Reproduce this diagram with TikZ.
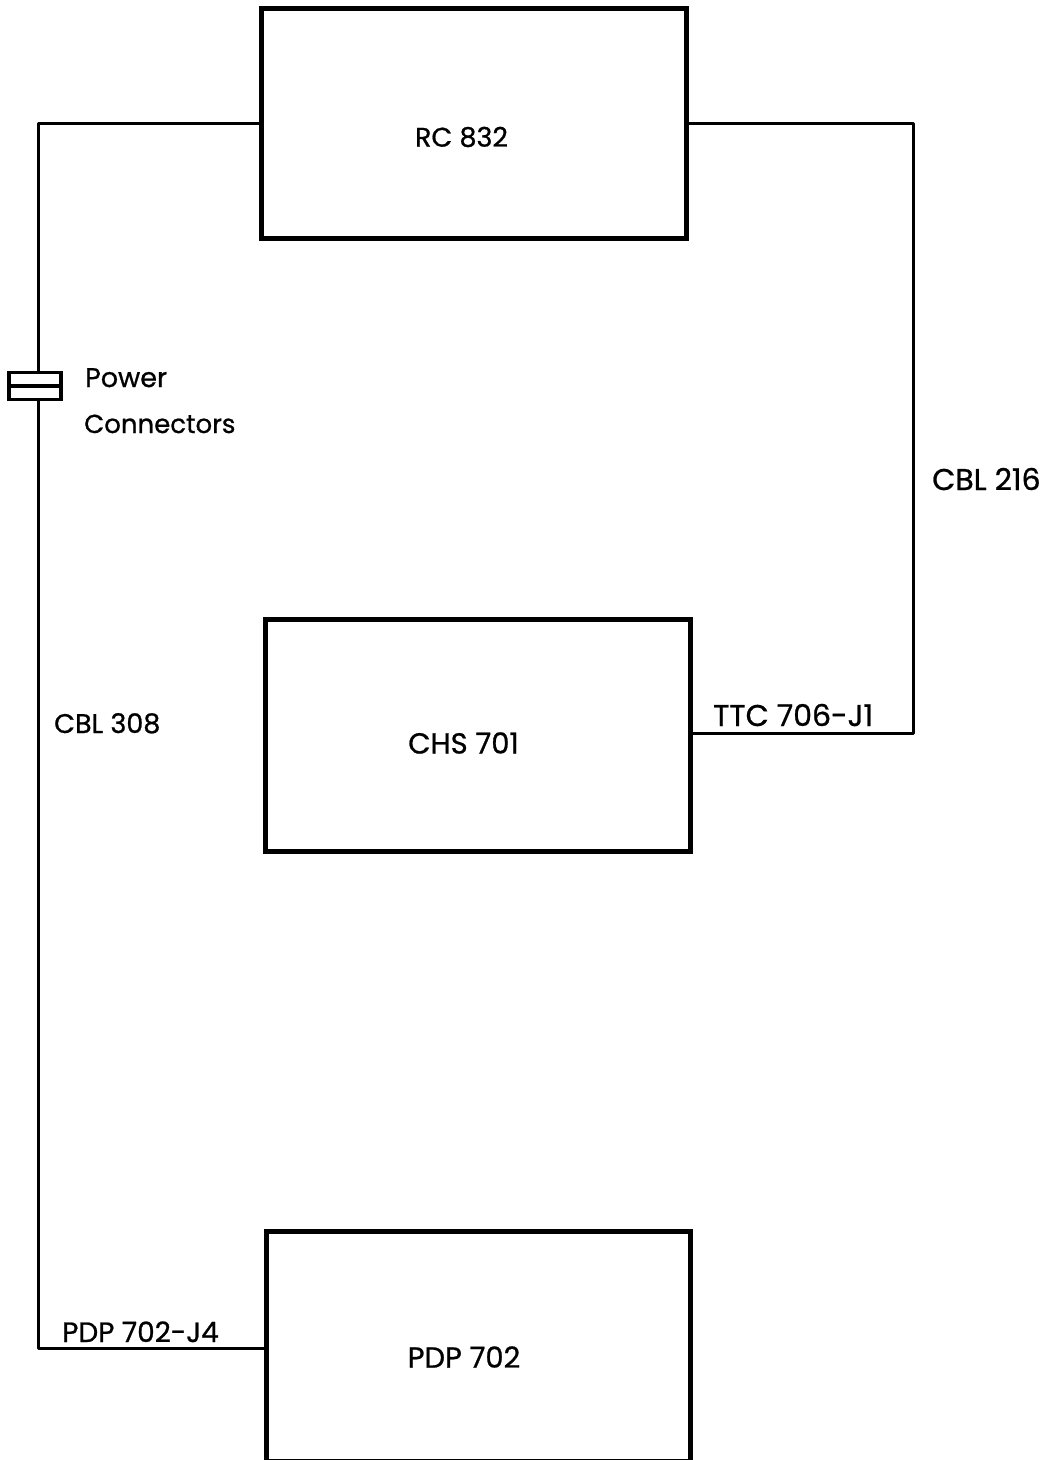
\documentclass[tikz,border=0pt]{standalone}
\usepackage{fontspec}
\setmainfont{Poppins}[FakeBold=0.8]
\begin{document}
\begin{tikzpicture}[x=1pt,y=-1pt,
  box/.style={draw, line width=5pt, rectangle, inner sep=0pt},
  wire/.style={draw, line width=3pt, line join=round},
  lbl/.style={font=\fontsize{27}{32}\selectfont, inner sep=0pt},
  slbl/.style={font=\fontsize{27}{32}\selectfont, inner sep=0pt, anchor=base west}]
\useasboundingbox (0,0) rectangle (1056,1460);
% boxes
\node[box, minimum width=425pt, minimum height=230pt] (rc) at (473.5,123) {};
\node[lbl] at (rc.center) [yshift=-14pt, xshift=-12pt] {RC 832};
\node[box, minimum width=425pt, minimum height=232pt] (chs) at (477.5,735) {};
\node[lbl, font=\fontsize{29}{34}\selectfont] at (chs.center) [yshift=-8pt, xshift=-14pt] {CHS 701};
\node[box, minimum width=424pt, minimum height=230pt] (pdp) at (478,1346) {};
\node[lbl, font=\fontsize{29}{34}\selectfont] at (pdp.center) [yshift=-11pt, xshift=-14pt] {PDP 702};
% coordinates for wire corners
\coordinate (lt) at (38,123);
\coordinate (lb) at (38,1348);
\coordinate (rt) at (913,123);
\coordinate (rb) at (913,733);
% wires
\draw[wire] (rc.west |- lt) -- (lt) -- (lb) -- (pdp.west |- lb);
\draw[wire] (rc.east |- rt) -- (rt) -- (rb) -- (chs.east |- rb);
% power connector symbol
\node[draw, line width=3.2pt, fill=white, minimum width=52pt, minimum height=27pt, inner sep=0pt] (pc) at (35,386) {};
\draw[line width=3.2pt] (pc.west) -- (pc.east);
% labels
\node[slbl] (pw) at (85,387) {Power};
\node[slbl, font=\fontsize{26}{30}\selectfont] (cn) at (84,433) {Connectors};
\node[slbl, font=\fontsize{30}{34}\selectfont] (c216) at (932,490) {CBL 216};
\node[slbl, font=\fontsize{27}{32}\selectfont] (c308) at (54,733) {CBL 308};
\node[slbl, font=\fontsize{30}{34}\selectfont] (ttc) at (713,726) {TTC 706-J1};
\node[slbl, font=\fontsize{28}{34}\selectfont] (j4) at (62,1342) {PDP 702-J4};
\end{tikzpicture}
\end{document}
